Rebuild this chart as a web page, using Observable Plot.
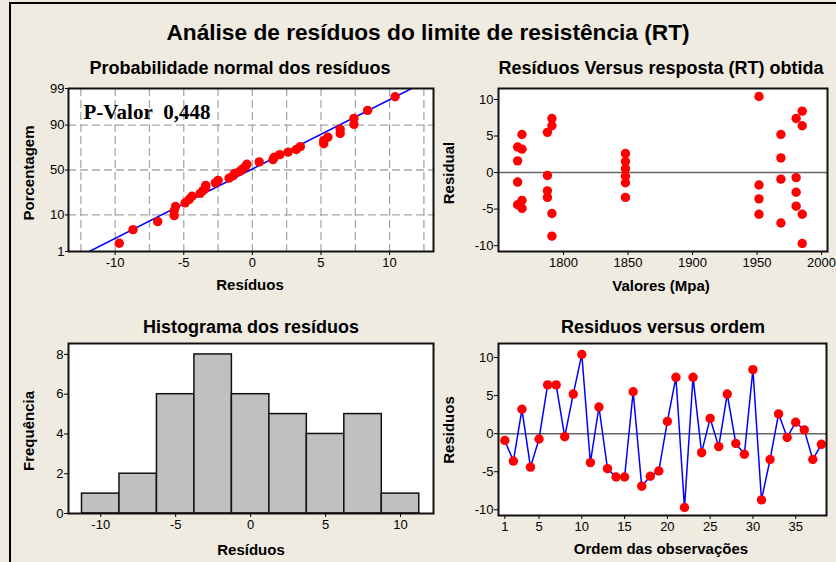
<!DOCTYPE html>
<html>
<head>
<meta charset="utf-8">
<script src="https://cdn.jsdelivr.net/npm/d3@7"></script>
<script src="https://cdn.jsdelivr.net/npm/@observablehq/plot@0.6"></script>
<style>
  html, body { margin: 0; padding: 0; background: #EFEBE1; }
  #chart { position: relative; width: 836px; height: 562px; background: #EFEBE1; overflow: hidden; }
  .t { position: absolute; font-family: "Liberation Sans", Arial, sans-serif; font-weight: bold; color: #000; white-space: nowrap; line-height: 1; }
  .p { position: absolute; }
</style>
</head>
<body>
<div id="chart"></div>
<script>
// ---------------- DATA ----------------
const mainTitle = "Análise de resíduos do limite de resistência (RT)";
const titleProb = "Probabilidade normal dos resíduos";
const titleFits = "Resíduos Versus resposta (RT) obtida";
const titleHist = "Histograma dos resíduos";
const titleOrder = "Residuos versus ordem";

// observation order 1..38
const observation = [1,2,3,4,5,6,7,8,9,10,11,12,13,14,15,16,17,18,19,20,21,22,23,24,25,26,27,28,29,30,31,32,33,34,35,36,37,38];
// residual of each observation
const residuals = [-0.9,-3.6,3.2,-4.4,-0.7,6.4,6.4,-0.4,5.2,10.4,
                   -3.8,3.5,-4.6,-5.7,-5.7,5.5,-6.9,-5.6,-4.9,1.6,
                   7.4,-9.7,7.4,-2.5,2.0,-1.7,5.2,-1.3,-2.7,8.4,
                   -8.7,-3.4,2.6,-0.5,1.5,0.5,-3.4,-1.4];
// fitted value (Mpa) of each observation
const fitted = [1968.5,1951.5,1767.8,1764.4,1980.3,1791,1985,1787.5,1767.8,1951.5,
                1767.8,1764.4,1980.3,1951.5,1985,1787.5,1968.5,1791,1767.8,1764.4,
                1791,1985,1980.3,1787.5,1968.5,1951.5,1968.5,1764.4,1980.3,1985,
                1791,1787.5,1848,1848,1848,1848,1848,1848];
// histogram
const histCenters = [-10,-7.5,-5,-2.5,0,2.5,5,7.5,10];
const histCounts  = [1,2,6,8,6,5,4,5,1];
const histWidth = 2.5;
// tick labels
const probTicks = [1,10,50,90,99];
const probGrid = [10,50,90];
const residTicks = [-10,-5,0,5,10];
const fitTicks = [1800,1850,1900,1950,2000];
const orderTicks = [1,5,10,15,20,25,30,35];
const freqTicks = [0,2,4,6,8];
const pValueText = "P-Valor\u00a0\u00a00,448";

// ---------------- helpers ----------------
function probit(p){
  const a=[-3.969683028665376e+01,2.209460984245205e+02,-2.759285104469687e+02,1.383577518672690e+02,-3.066479806614716e+01,2.506628277459239e+00];
  const b=[-5.447609879822406e+01,1.615858368580409e+02,-1.556989798598866e+02,6.680131188771972e+01,-1.328068155288572e+01];
  const c=[-7.784894002430293e-03,-3.223964580411365e-01,-2.400758277161838e+00,-2.549671010229326e+00,4.374664141464968e+00,2.938163982698783e+00];
  const d=[7.784695709041462e-03,3.224671290700398e-01,2.445134137142996e+00,3.754408661907416e+00];
  const plow=0.02425, phigh=1-plow;
  if(p<plow){const q=Math.sqrt(-2*Math.log(p));return (((((c[0]*q+c[1])*q+c[2])*q+c[3])*q+c[4])*q+c[5])/((((d[0]*q+d[1])*q+d[2])*q+d[3])*q+1);}
  if(p>phigh){const q=Math.sqrt(-2*Math.log(1-p));return -(((((c[0]*q+c[1])*q+c[2])*q+c[3])*q+c[4])*q+c[5])/((((d[0]*q+d[1])*q+d[2])*q+d[3])*q+1);}
  const q=p-0.5, r=q*q;
  return (((((a[0]*r+a[1])*r+a[2])*r+a[3])*r+a[4])*r+a[5])*q/(((((b[0]*r+b[1])*r+b[2])*r+b[3])*r+b[4])*r+1);
}
const fmt = d => d < 0 ? "-" + Math.abs(d) : String(d);
const RED = "#FF0000", BLUE = "#0000FF";
const DOT_R = 4.7;
const plotStyle = {background: "transparent", fontFamily: "'Liberation Sans', Arial, sans-serif", fontSize: "13px", color: "#000", overflow: "visible"};

const root = document.getElementById("chart");
function place(el, x, y){ el.classList.add("p"); el.style.left = x + "px"; el.style.top = y + "px"; root.appendChild(el); }
function label(text, cx, cy, size, rotate){
  const el = document.createElement("div");
  el.className = "t";
  el.textContent = text;
  el.style.fontSize = size + "px";
  el.style.left = cx + "px";
  el.style.top = cy + "px";
  el.style.transform = "translate(-50%,-50%)" + (rotate ? " rotate(-90deg)" : "");
  root.appendChild(el);
}

// ---------------- derived tables ----------------
const rows = observation.map((o, i) => ({order: o, resid: residuals[i], fit: fitted[i]}));
const nObs = residuals.length;
const sortedRes = residuals.slice().sort((a, b) => a - b);
const probRows = sortedRes.map((r, i) => ({resid: r, z: probit((i + 1 - 0.3) / (nObs + 0.4))}));
const meanRes = d3.mean(residuals), sdRes = d3.deviation(residuals);
const zLo = probit(0.01), zHi = probit(0.99);
const fitLine = [{z: zLo, x: meanRes + sdRes * zLo}, {z: zHi, x: meanRes + sdRes * zHi}];
const zTickMap = new Map(probTicks.map(p => [probit(p / 100), String(p)]));
const hist = histCenters.map((c, i) => ({c, n: histCounts[i]}));
const gridX = d3.range(-12.5, 12.51, 2.5);

// ---------------- panel 1: normal probability ----------------
const p1 = Plot.plot({
  width: 440, height: 222, marginLeft: 68, marginRight: 7, marginTop: 10, marginBottom: 49,
  style: plotStyle,
  x: {domain: [-13.4, 13.2], ticks: residTicks, tickFormat: fmt, tickSize: 4, tickPadding: 2, label: null},
  y: {domain: [zLo, zHi], ticks: probTicks.map(p => probit(p / 100)), tickFormat: z => zTickMap.get(z), tickSize: 3, tickPadding: 1, label: null},
  marks: [
    Plot.frame({fill: "white"}),
    Plot.ruleX(gridX, {stroke: "#A8A8A8", strokeWidth: 1.3, strokeDasharray: "8,4"}),
    Plot.ruleY(probGrid.map(p => probit(p / 100)), {stroke: "#A8A8A8", strokeWidth: 1.3, strokeDasharray: "8,4"}),
    Plot.line(fitLine, {x: "x", y: "z", stroke: BLUE, strokeWidth: 1.5, clip: true}),
    Plot.dot(probRows, {x: "resid", y: "z", r: DOT_R, fill: RED, stroke: "none"}),
    Plot.text([pValueText], {frameAnchor: "top-left", dx: 15, dy: 24, lineAnchor: "middle", textAnchor: "start",
      fontFamily: "'Liberation Serif', 'Times New Roman', serif", fontWeight: "bold", fontSize: 21, fill: "#000"}),
    Plot.frame({stroke: "#111", strokeWidth: 2})
  ]
});
place(p1, 0, 78);

// ---------------- panel 2: residuals vs fits ----------------
const p2 = Plot.plot({
  width: 396, height: 222, marginLeft: 58, marginRight: 9, marginTop: 10, marginBottom: 49,
  style: plotStyle,
  x: {domain: [1749.6, 2004.6], ticks: fitTicks, tickFormat: fmt, tickSize: 4, tickPadding: 2, label: null},
  y: {domain: [-10.8, 11.5], ticks: residTicks, tickFormat: fmt, tickSize: 4, tickPadding: 1, label: null},
  marks: [
    Plot.frame({fill: "white"}),
    Plot.ruleY([0], {stroke: "#666", strokeWidth: 1.5}),
    Plot.dot(rows, {x: "fit", y: "resid", r: DOT_R, fill: RED, stroke: "none"}),
    Plot.frame({stroke: "#111", strokeWidth: 2})
  ]
});
place(p2, 440, 78);

// ---------------- panel 3: histogram ----------------
const p3 = Plot.plot({
  width: 440, height: 227, marginLeft: 68, marginRight: 7, marginTop: 8, marginBottom: 49,
  style: plotStyle,
  x: {domain: [-12.15, 12.2], ticks: residTicks, tickFormat: fmt, tickSize: 4, tickPadding: 2, label: null},
  y: {domain: [0, 8.55], ticks: freqTicks, tickFormat: fmt, tickSize: 4, tickPadding: 1, label: null},
  marks: [
    Plot.frame({fill: "white"}),
    Plot.rectY(hist, {x1: d => d.c - histWidth / 2, x2: d => d.c + histWidth / 2, y: "n", inset: 0,
      fill: "#C0C0C0", stroke: "#111", strokeWidth: 1.5}),
    Plot.frame({stroke: "#111", strokeWidth: 2})
  ]
});
place(p3, 0, 335);

// ---------------- panel 4: residuals vs order ----------------
const p4 = Plot.plot({
  width: 396, height: 227, marginLeft: 58, marginRight: 10, marginTop: 8, marginBottom: 47,
  style: plotStyle,
  x: {domain: [0.26, 38.6], ticks: orderTicks, tickFormat: fmt, tickSize: 4, tickPadding: 2, label: null},
  y: {domain: [-10.75, 11.84], ticks: residTicks, tickFormat: fmt, tickSize: 4, tickPadding: 1, label: null},
  marks: [
    Plot.frame({fill: "white"}),
    Plot.ruleY([0], {stroke: "#666", strokeWidth: 1.5}),
    Plot.line(rows, {x: "order", y: "resid", stroke: BLUE, strokeWidth: 1.5}),
    Plot.dot(rows, {x: "order", y: "resid", r: DOT_R, fill: RED, stroke: "none"}),
    Plot.frame({stroke: "#111", strokeWidth: 2})
  ]
});
place(p4, 440, 335);

// ---------------- texts ----------------
label(mainTitle, 428, 32, 22.7, false);
label(titleProb, 240, 68, 18, false);
label(titleFits, 661, 68, 18, false);
label(titleHist, 251, 327, 18, false);
label(titleOrder, 663, 327, 18, false);
label("Resíduos", 250, 284, 15, false);
label("Porcentagem", 28, 173, 15, true);
label("Valores (Mpa)", 661, 285, 15, false);
label("Residual", 448, 173, 15, true);
label("Frequência", 28, 431, 15, true);
label("Resíduos", 251, 549, 15, false);
label("Residuos", 448, 430, 15, true);
label("Ordem das observações", 661, 548, 15, false);

// outer border lines
const borderTop = document.createElement("div");
borderTop.style.cssText = "position:absolute;left:9px;top:2px;width:827px;height:2px;background:#000;";
root.appendChild(borderTop);
const borderLeft = document.createElement("div");
borderLeft.style.cssText = "position:absolute;left:9px;top:2px;width:2px;height:560px;background:#000;";
root.appendChild(borderLeft);
</script>
</body>
</html>
